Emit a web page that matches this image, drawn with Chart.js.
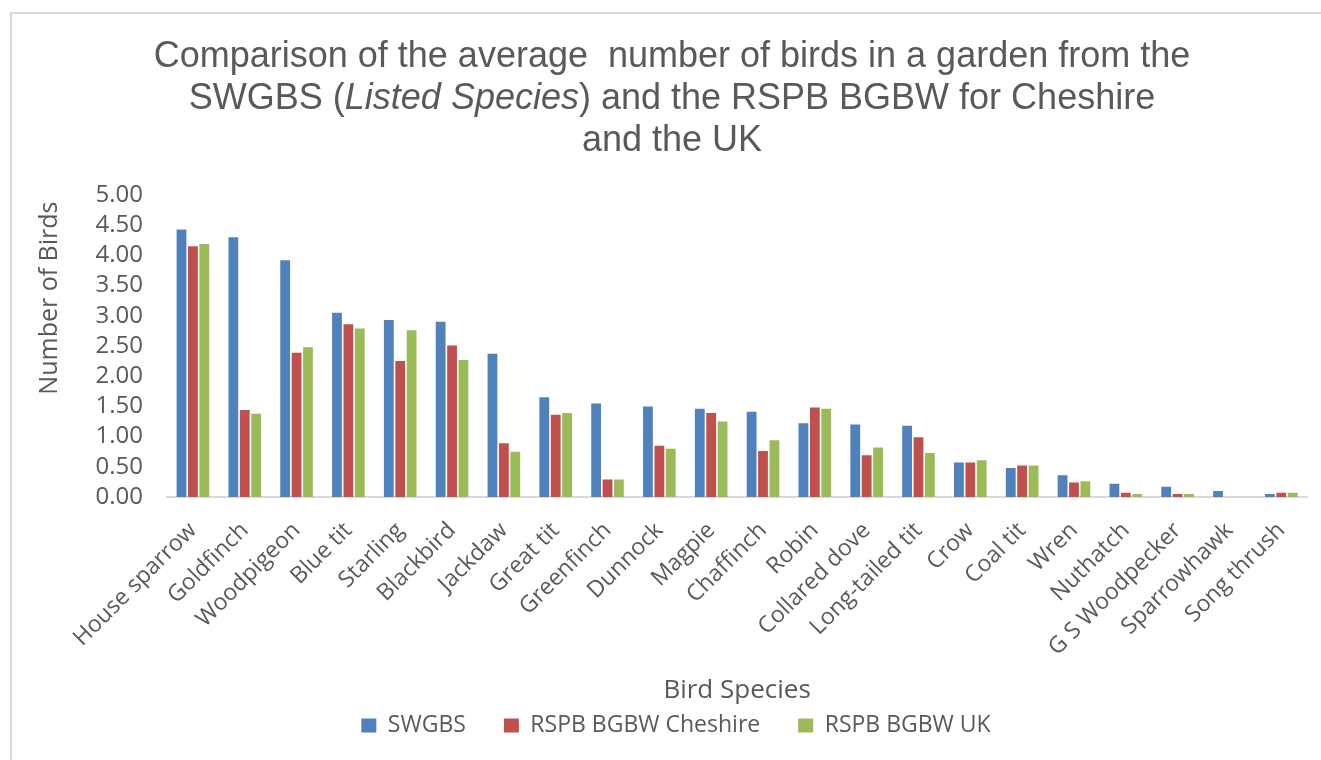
<!DOCTYPE html>
<html>
<head>
<meta charset="utf-8">
<script src="https://cdn.jsdelivr.net/npm/chart.js@4.4.1/dist/chart.umd.min.js"></script>
<style>
  body { margin: 0; background: #fff; overflow: hidden; }
  .frame { position: absolute; left: 10px; top: 12px; width: 1400px; height: 800px; border: 2px solid #d9d9d9; }
  .chartBox { position: absolute; left: 0; top: 0; width: 1321px; height: 760px; }
  .chartTitle {
    position: absolute; left: -328px; width: 2000px; top: 34px;
    font-family: "Liberation Sans", Arial, sans-serif; font-size: 36px; line-height: 42px;
    color: #595959; text-align: center; white-space: nowrap;
  }
</style>
</head>
<body>
<div class="frame"></div>
<div class="chartBox"><canvas class="myChart"></canvas></div>
<div class="chartTitle">Comparison of the average&nbsp; number of birds in a garden from the<br>SWGBS (<i>Listed Species</i>) and the RSPB BGBW for Cheshire<br>and the UK</div>
<script>
// species along the x axis
const species = ["House sparrow", "Goldfinch", "Woodpigeon", "Blue tit", "Starling", "Blackbird", "Jackdaw",
  "Great tit", "Greenfinch", "Dunnock", "Magpie", "Chaffinch", "Robin", "Collared dove", "Long-tailed tit",
  "Crow", "Coal tit", "Wren", "Nuthatch", "G S Woodpecker", "Sparrowhawk", "Song thrush"];

// average number of birds per garden
const swgbs = [4.43, 4.30, 3.92, 3.05, 2.93, 2.90, 2.37, 1.65, 1.55, 1.50, 1.46, 1.41, 1.22, 1.20, 1.18, 0.57, 0.48, 0.36, 0.22, 0.17, 0.10, 0.05];
const cheshire = [4.15, 1.44, 2.39, 2.86, 2.25, 2.51, 0.89, 1.36, 0.29, 0.85, 1.39, 0.76, 1.48, 0.69, 0.99, 0.57, 0.52, 0.24, 0.07, 0.05, 0, 0.07];
const ukData = [4.19, 1.38, 2.48, 2.79, 2.76, 2.27, 0.75, 1.39, 0.29, 0.80, 1.25, 0.94, 1.46, 0.82, 0.73, 0.61, 0.52, 0.26, 0.05, 0.05, 0, 0.07];

const seriesNames = ["SWGBS", "RSPB BGBW Cheshire", "RSPB BGBW UK"];
const seriesColors = ["#4f81bd", "#c0504d", "#9bbb59"];

const yMin = 0, yMax = 5, yStep = 0.5;

const textGrey = "#595959";
const labelFont = "'Open Sans', sans-serif";

const myChart = document.querySelector(".myChart");

new Chart(myChart, {
  type: "bar",
  data: {
    labels: species,
    datasets: [swgbs, cheshire, ukData].map((vals, i) => ({
      label: seriesNames[i],
      data: vals,
      backgroundColor: seriesColors[i],
      borderWidth: 0,
      categoryPercentage: 0.66,
      barPercentage: 0.86,
    })),
  },
  options: {
    responsive: true,
    maintainAspectRatio: false,
    animation: false,
    layout: { padding: { left: 40, right: 9, top: 195, bottom: 13 } },
    scales: {
      x: {
        grid: { display: false, drawTicks: false },
        border: { display: true, color: "#d9d9d9", width: 2 },
        ticks: {
          autoSkip: false, minRotation: 45, maxRotation: 45, padding: 20,
          color: textGrey, font: { family: labelFont, size: 23 },
        },
        title: {
          display: true, text: "Bird Species", color: textGrey,
          font: { family: labelFont, size: 26 }, padding: { top: 0, bottom: -30 },
        },
        afterFit: (scale) => { scale.height = 179; },
      },
      y: {
        min: yMin, max: yMax,
        grid: { display: false, drawTicks: false },
        border: { display: false },
        ticks: {
          autoSkip: false, stepSize: yStep, padding: 24, color: textGrey,
          font: { family: labelFont, size: 24 },
          callback: (v) => v.toFixed(2),
        },
        title: {
          display: true, text: "Number of Birds ", align: "end", color: textGrey,
          font: { family: labelFont, size: 25 }, padding: { top: -5, bottom: 0 },
        },
        afterFit: (scale) => { scale.width = 127; },
      },
    },
    plugins: {
      legend: {
        position: "bottom",
        labels: {
          boxWidth: 15, boxHeight: 14, padding: 38,
          color: textGrey, font: { family: labelFont, size: 23 },
        },
      },
      tooltip: { enabled: false },
    },
  },
});
</script>
</body>
</html>
